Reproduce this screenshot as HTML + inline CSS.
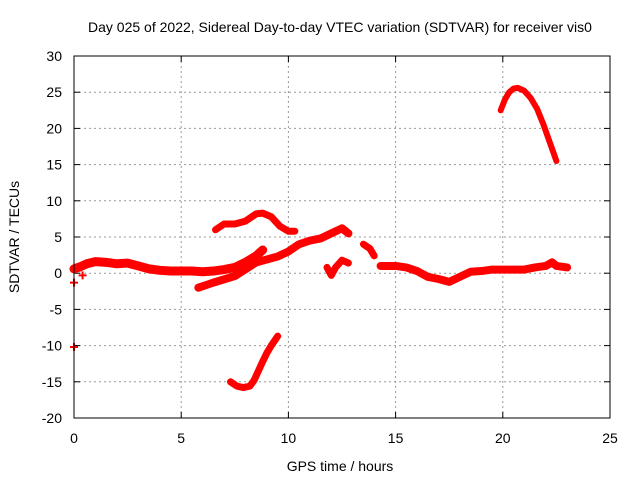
<!DOCTYPE html>
<html><head><meta charset="utf-8"><style>
body{margin:0;background:#fff}
svg{display:block;font-family:"Liberation Sans",Arial,sans-serif;font-size:14px}
</style></head><body>
<svg id="chart" width="640" height="480" viewBox="0 0 640 480">
<rect width="640" height="480" fill="#fff"/>
<g id="grid"></g>
<g id="axes"></g>
<g id="series"></g>
<rect x="74" y="56" width="536" height="362" fill="none" stroke="#000" stroke-width="1"/>
<text x="340" y="32" text-anchor="middle">Day 025 of 2022, Sidereal Day-to-day VTEC variation (SDTVAR) for receiver vis0</text>
<text x="340" y="471" text-anchor="middle">GPS time / hours</text>
<text transform="translate(19,237) rotate(-90)" text-anchor="middle">SDTVAR / TECUs</text>
</svg>
<script>
const xTicks=[0,5,10,15,20,25];
const yTicks=[-20,-15,-10,-5,0,5,10,15,20,25,30];
const sA_h=[0,0.3,0.6,1,1.5,2,2.5,3,3.5,4,4.5,5,5.5,6,6.5,7,7.5,8,8.5,8.8];
const sA_v=[0.6,0.9,1.3,1.6,1.5,1.3,1.4,1.0,0.6,0.4,0.3,0.3,0.3,0.2,0.3,0.5,0.8,1.5,2.4,3.2];
const sB_h=[5.8,6.5,7.5,8.5,9.5,10,10.5,11,11.5,12,12.5,12.8];
const sB_v=[-2,-1.3,-0.4,1.5,2.3,3,4,4.5,4.8,5.5,6.2,5.5];
const sC_h=[6.6,7,7.5,8,8.5,8.8,9.2,9.6,10,10.3];
const sC_v=[6,6.8,6.8,7.2,8.2,8.3,7.8,6.5,5.8,5.8];
const sD_h=[11.8,12,12.2,12.5,12.8];
const sD_v=[0.8,-0.3,0.8,1.8,1.4];
const sE_h=[13.5,13.8,14];
const sE_v=[4,3.4,2.4];
const sF_h=[14.3,15,15.5,16,16.5,17,17.5,18,18.5,19,19.5,20,21,21.5,22,22.3,22.5,23];
const sF_v=[1,1,0.8,0.3,-0.5,-0.8,-1.2,-0.5,0.2,0.3,0.5,0.5,0.5,0.8,1,1.5,1,0.8];
const sG_h=[7.3,7.6,7.9,8.2,8.4,8.6,8.8,9,9.2,9.5];
const sG_v=[-15,-15.6,-15.8,-15.6,-14.8,-13.5,-12.2,-11,-10,-8.7];
const sH_h=[19.9,20.1,20.3,20.5,20.7,21,21.3,21.6,21.9,22.2,22.5];
const sH_v=[22.5,24,25,25.5,25.6,25.2,24.2,22.7,20.5,18,15.5];
const isoH=[0,0,0.4];
const isoV=[-1.3,-10.2,-0.3];
const NS='http://www.w3.org/2000/svg';
const X=h=>74+h/25*536;
const Y=v=>418-(v+20)/50*362;
function mk(tag,attrs,parent){const e=document.createElementNS(NS,tag);for(const k in attrs)e.setAttribute(k,attrs[k]);parent.appendChild(e);return e;}
const grid=document.getElementById('grid'),axes=document.getElementById('axes'),ser=document.getElementById('series');
xTicks.forEach(t=>{
  if(t>0&&t<25){const l=mk('line',{x1:X(t),x2:X(t),y1:56,y2:418,stroke:'#999','stroke-dasharray':'2,3'},grid);
  
  }
  mk('line',{x1:X(t),x2:X(t),y1:418,y2:412,stroke:'#000'},axes);
  mk('line',{x1:X(t),x2:X(t),y1:56,y2:62,stroke:'#000'},axes);
  const tx=mk('text',{x:X(t),y:443,'text-anchor':'middle'},axes);tx.textContent=t;
  
  
});
yTicks.forEach(t=>{
  if(t>-20&&t<30){const l=mk('line',{x1:74,x2:610,y1:Y(t),y2:Y(t),stroke:'#999','stroke-dasharray':'2,3'},grid);
  
  }
  mk('line',{x1:74,x2:80,y1:Y(t),y2:Y(t),stroke:'#000'},axes);
  mk('line',{x1:610,x2:604,y1:Y(t),y2:Y(t),stroke:'#000'},axes);
  const tx=mk('text',{x:62,y:Y(t)+5,'text-anchor':'end'},axes);tx.textContent=t;
  
  
});
function series(hs,vs,name,w){
  const pts=hs.map((h,i)=>X(h)+','+Y(vs[i])).join(' ');
  const p=mk('polyline',{points:pts,fill:'none',stroke:'#f00','stroke-width':w,'stroke-linejoin':'round','stroke-linecap':'round'},ser);
  
  
}
series(sA_h,sA_v,'series-baseline-early',9);
series(sB_h,sB_v,'series-rising',8);
series(sC_h,sC_v,'series-hump',7);
series(sD_h,sD_v,'series-dip',7);
series(sE_h,sE_v,'series-drop',7);
series(sF_h,sF_v,'series-baseline-late',8);
series(sG_h,sG_v,'series-negative',7);
series(sH_h,sH_v,'series-peak',6);
isoH.forEach((h,i)=>{
  const g=mk('path',{d:`M${X(h)-4},${Y(isoV[i])}h8M${X(h)},${Y(isoV[i])-4}v8`,stroke:'#f00','stroke-width':2},ser);
  
  
});
</script>
</body></html>
